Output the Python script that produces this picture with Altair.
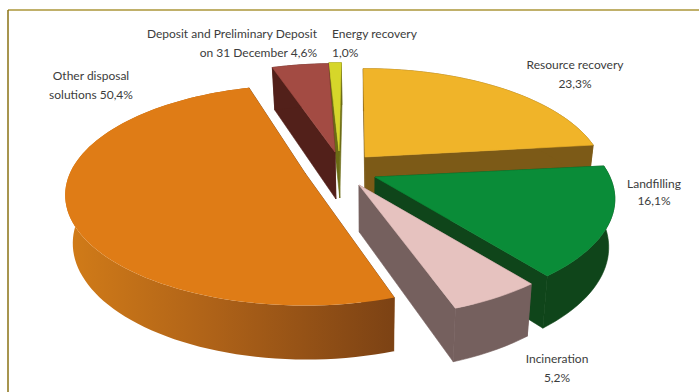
import math
import altair as alt

# Shares of waste by disposal route, clockwise from the top of the pie
NAMES = ["Resource recovery", "Landfilling", "Incineration",
         "Other disposal solutions", "Deposit and Preliminary Deposit", "Energy recovery"]
SHARES = [23.3, 16.1, 5.2, 50.4, 4.6, 1.0]

# Per-slice styling and explosion
TOP_COLORS = ["#f0b429", "#0a8c38", "#e6c2bf", "#df7c16", "#a34b43", "#d6d62a"]
SIDE_COLORS = ["#7c5a17", "#0f451a", "#75605e", "#7f4413", "#52201a", "#6b6b15"]
HUBS = [(365, 157), (375, 177), (359, 185), (305, 173), (335, 152), (339, 151)]
TURN = [-0.5, 0.0, 0.0, 1.5, -0.5, -1.5]

# Perspective of the tilted pie
RADIUS_X, RADIUS_Y, DEPTH_K = 235.0, 106.0, 0.2
THICKNESS, NARROW, VANISH_X = 47.0, 0.975, 370.0

LABEL_TEXT = ["Deposit and Preliminary Deposit", "on  31 December  4,6%",
              "Energy recovery", "1,0%", "Other disposal", "solutions 50,4%",
              "Resource recovery", "23,3%", "Landfilling", "16,1%", "Incineration", "5,2%"]
LABEL_X = [317, 317, 332, 332, 91, 91, 575, 575, 654, 654, 557, 557]
LABEL_Y = [38, 57, 38, 57, 80, 99, 69, 88, 188, 205, 363, 382]
LABEL_ALIGN = ["right", "right", "left", "left", "center", "center",
               "center", "center", "center", "center", "center", "center"]


def project(hub, degrees):
    """Place a rim point of the pie and return it with its depth scale."""
    a = math.radians(degrees)
    u, v = math.sin(a), math.cos(a)
    s = 1.0 / (1.0 + DEPTH_K * v)
    return hub[0] + RADIUS_X * u * s, hub[1] - RADIUS_Y * v * s, s


def drop(point, s):
    """Same point on the underside of the pie."""
    x, y = point
    return VANISH_X + (x - VANISH_X) * NARROW, y + THICKNESS * (0.4 + 0.6 * s)


def feature(ring, color):
    ring = [[round(x, 2), round(y, 2)] for x, y in ring]
    ring.append(ring[0])
    return {"type": "Feature", "properties": {"color": color},
            "geometry": {"type": "Polygon", "coordinates": [ring]}}


def slice_faces(i, start):
    hub = HUBS[i]
    sweep = SHARES[i] * 3.6
    begin = start + TURN[i]
    steps = max(4, int(sweep / 2))
    rim = [project(hub, begin + sweep * k / steps) for k in range(steps + 1)]
    top = [(x, y) for x, y, _ in rim]
    under = [drop((x, y), s) for x, y, s in rim]
    hub_under = drop(hub, 1.0)
    side = SIDE_COLORS[i]
    cuts = [feature([hub, top[0], under[0], hub_under], side),
            feature([hub, top[-1], under[-1], hub_under], side)]
    wall = feature(top + under[::-1], side)
    cover = feature([hub] + top, TOP_COLORS[i])
    return cuts, wall, cover


starts = []
running = 0.0
for share in SHARES:
    starts.append(running)
    running += share * 3.6

faces = {i: slice_faces(i, starts[i]) for i in range(len(SHARES))}

# Painted from the back of the pie to the front
flat = []
for i in [5, 4, 0, 1, 2]:
    cuts, wall, cover = faces[i]
    flat += cuts + [wall, cover]
orange_cuts, orange_wall, orange_cover = faces[3]

identity = dict(type="identity", scale=1, translate=[0, 0])
color = alt.Color("properties.color:N", scale=None)
edge = alt.Stroke("properties.color:N", scale=None)

flat_layer = (alt.Chart(alt.Data(values=orange_cuts + flat)).mark_geoshape(strokeWidth=0.6)
              .encode(color=color, stroke=edge).project(**identity))
wall_layer = (alt.Chart(alt.Data(values=[orange_wall]))
              .mark_geoshape(fill=alt.Gradient(
                  gradient="linear", x1=0, x2=1, y1=0, y2=0,
                  stops=[alt.GradientStop(offset=0, color="#d27c18"),
                         alt.GradientStop(offset=0.45, color="#ae6218"),
                         alt.GradientStop(offset=1, color="#7c4214")]))
              .project(**identity))
cover_layer = (alt.Chart(alt.Data(values=[orange_cover])).mark_geoshape()
               .encode(color=color).project(**identity))

labels = alt.Data(values=[{"t": t, "x": x, "y": y, "a": a} for t, x, y, a in
                          zip(LABEL_TEXT, LABEL_X, LABEL_Y, LABEL_ALIGN)])
text_layers = [
    alt.Chart(labels).transform_filter(alt.datum.a == a)
    .mark_text(font="Lato", fontSize=12, color="#3c3c3c",
               align=a, baseline="alphabetic")
    .encode(x=alt.X("x:Q", scale=None), y=alt.Y("y:Q", scale=None), text="t:N")
    for a in ["left", "center", "right"]
]

frame_top = alt.Chart(alt.Data(values=[{}])).mark_rule(color="#ab9638", strokeWidth=1.5).encode(
    x=alt.value(8), x2=alt.value(699), y=alt.value(10))
frame_left = alt.Chart(alt.Data(values=[{}])).mark_rule(color="#8a7214", strokeWidth=1.5).encode(
    y=alt.value(10), y2=alt.value(392), x=alt.value(8))

chart = alt.layer(frame_top, frame_left, flat_layer, wall_layer, cover_layer, *text_layers).properties(
    width=699, height=392, padding=0, background="white",
    autosize=alt.AutoSizeParams(type="none"),
).configure_view(stroke=None)

chart.save("out.html", embed_options={"renderer": "svg", "actions": False})
